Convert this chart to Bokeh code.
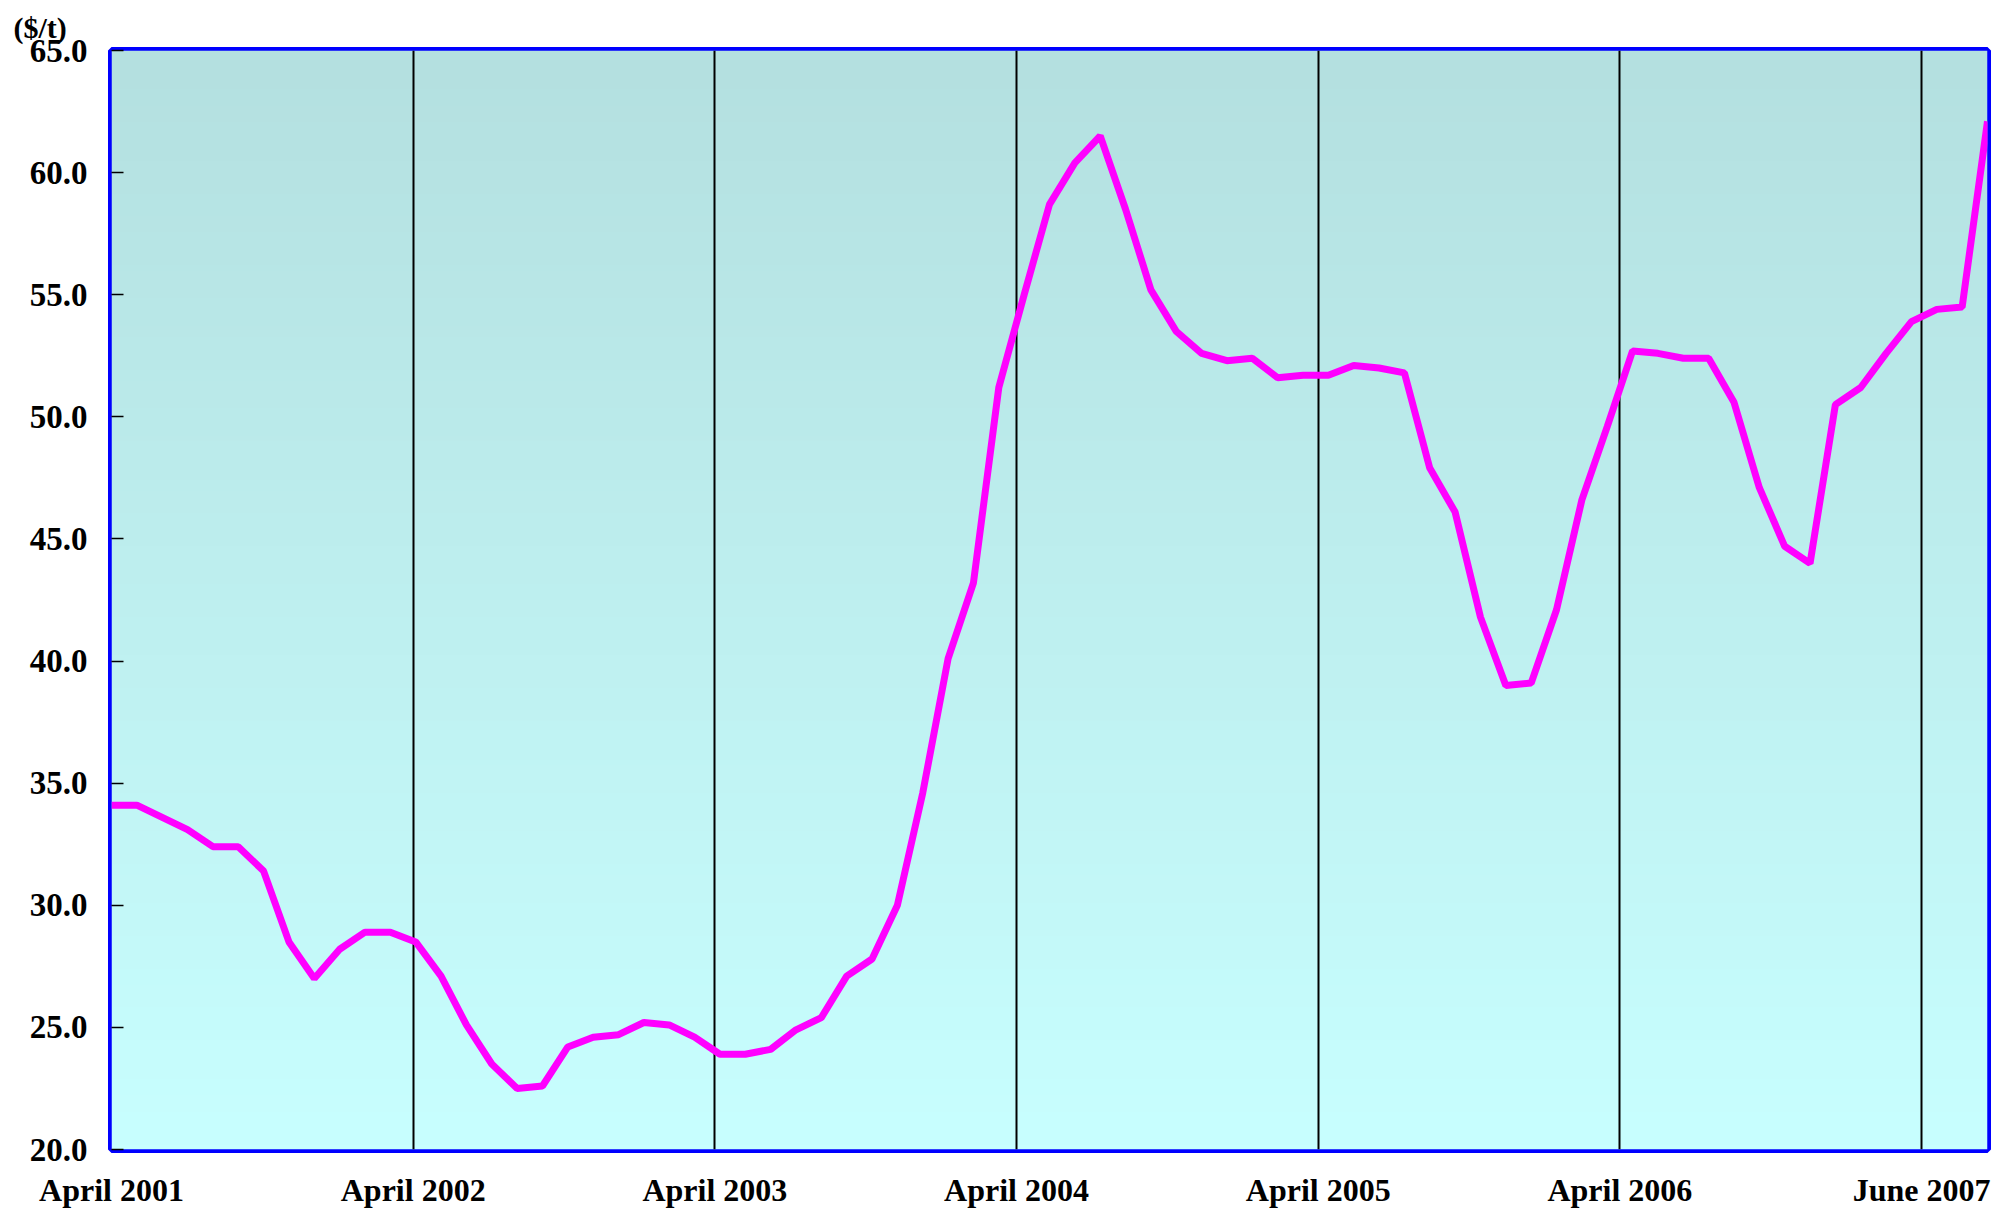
import numpy as np
from bokeh.plotting import figure
from bokeh.models import Range1d, FixedTicker, NumeralTickFormatter
from bokeh.embed import file_html
from bokeh.resources import INLINE

# Monthly price ($/t), April 2001 .. June 2007
prices = [34.1, 34.1, 33.6, 33.1, 32.4, 32.4, 31.4, 28.5, 27.0, 28.2, 28.9, 28.9, 28.5,
          27.1, 25.1, 23.5, 22.5, 22.6, 24.2, 24.6, 24.7, 25.2, 25.1, 24.6, 23.9,
          23.9, 24.1, 24.9, 25.4, 27.1, 27.8, 30.0, 34.6, 40.1, 43.2, 51.2, 55.0,
          58.7, 60.4, 61.5, 58.5, 55.2, 53.5, 52.6, 52.3, 52.4, 51.6, 51.7, 51.7,
          52.1, 52.0, 51.8, 47.9, 46.1, 41.8, 39.0, 39.1, 42.1, 46.6, 49.6, 52.7,
          52.6, 52.4, 52.4, 50.6, 47.1, 44.7, 44.0, 50.5, 51.2, 52.6, 53.9, 54.4, 54.5, 62.1]
months = list(range(len(prices)))

tick_labels = ["April 2001", "April 2002", "April 2003", "April 2004",
               "April 2005", "April 2006", "June 2007"]
tick_pos = [0, 11.9, 23.8, 35.7, 47.6, 59.5, 71.4]
y_ticks = [20, 25, 30, 35, 40, 45, 50, 55, 60, 65]

y_min, y_max = 20, 65
x_min, x_max = 0, len(prices) - 1

FONT = "Liberation Serif"

p = figure(width=1992, height=1210, output_backend="svg", toolbar_location=None,
           x_range=Range1d(x_min, x_max), y_range=Range1d(y_min, y_max),
           min_border_left=111, min_border_right=5, min_border_top=50, min_border_bottom=52)

p.title.text = "($/t)"
p.title.text_font = FONT
p.title.text_font_size = "30px"
p.title.text_font_style = "bold"
p.title.text_color = "black"
p.title.align = "left"
p.title.offset = -98
p.title.standoff = 14

# gradient background
n = 200
top = np.array([180, 224, 224])
bot = np.array([200, 255, 255])
t = np.linspace(0, 1, n)[:, None]
cols = (bot * (1 - t) + top * t).astype(np.uint8)
img = np.zeros((n, 1), dtype=np.uint32)
view = img.view(dtype=np.uint8).reshape((n, 1, 4))
view[:, 0, 0] = cols[:, 0]
view[:, 0, 1] = cols[:, 1]
view[:, 0, 2] = cols[:, 2]
view[:, 0, 3] = 255
bg = p.image_rgba(image=[img], x=x_min, y=y_min, dw=x_max - x_min, dh=y_max - y_min)
bg.level = "image"

p.background_fill_color = "#BEEFEF"
p.border_fill_color = "white"
p.outline_line_color = "#0000FF"
p.outline_line_width = 7

p.line(months, prices, line_color="#FF00FF", line_width=7)

# grid
p.xgrid.ticker = FixedTicker(ticks=tick_pos)
p.xgrid.grid_line_color = "black"
p.xgrid.grid_line_width = 2
p.ygrid.grid_line_color = None

# x axis
p.xaxis.ticker = FixedTicker(ticks=tick_pos)
p.xaxis.major_label_overrides = {tp: lab for tp, lab in zip(tick_pos, tick_labels)}
p.xaxis.major_tick_line_color = None
p.xaxis.minor_tick_line_color = None
p.xaxis.axis_line_color = None
p.xaxis.major_label_text_font = FONT
p.xaxis.major_label_text_font_style = "bold"
p.xaxis.major_label_text_font_size = "32px"
p.xaxis.major_label_text_color = "black"
p.xaxis.major_label_standoff = 16

# y axis
p.yaxis.ticker = FixedTicker(ticks=y_ticks)
p.yaxis.formatter = NumeralTickFormatter(format="0.0")
p.yaxis.axis_line_color = None
p.yaxis.major_tick_in = 12
p.yaxis.major_tick_out = 0
p.yaxis.major_tick_line_color = "black"
p.yaxis.major_tick_line_width = 1.5
p.yaxis.minor_tick_line_color = None
p.yaxis.major_label_text_font = FONT
p.yaxis.major_label_text_font_style = "bold"
p.yaxis.major_label_text_font_size = "33px"
p.yaxis.major_label_text_color = "black"
p.yaxis.major_label_standoff = 24

open("out.html", "w").write(file_html(p, INLINE))
